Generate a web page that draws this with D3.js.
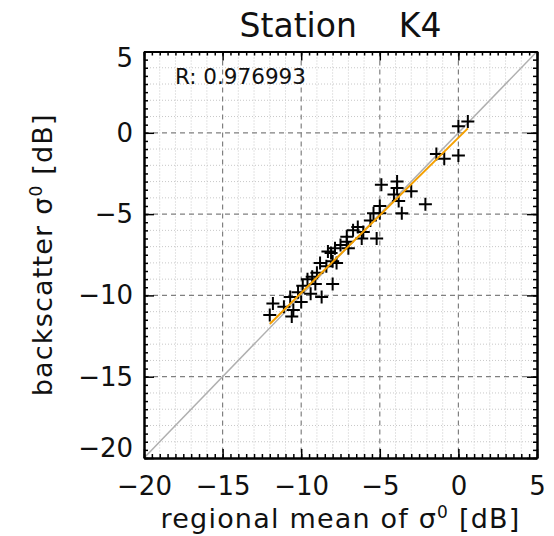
<!DOCTYPE html>
<html>
<head>
<meta charset="utf-8">
<script src="https://cdn.jsdelivr.net/npm/d3@7"></script>
<style>
  body { margin: 0; background: #fff; }
  text { font-family: "DejaVu Sans", sans-serif; fill: #111; }
</style>
</head>
<body>
<div id="chart"></div>
<script>
// regional mean of sigma0 (x) and station backscatter (y), in dB
var regionalMean = [-12.0, -11.8, -11.1, -10.7, -10.5, -10.6, -10.0, -9.9, -9.6, -9.3,
  -9.1, -8.7, -9.4, -10.2, -8.4, -8.3, -8.0, -7.75, -8.0, -8.1,
  -7.85, -7.5, -7.1, -7.1, -7.0, -6.7, -6.4, -6.05, -6.15, -5.2,
  -5.6, -5.4, -5.0, -5.0, -4.9, -3.9, -3.9, -3.0, -4.1, -3.8,
  -2.1, -3.6, -1.4, -0.9, 0.0, 0.0, 0.6, -9.0, -8.8];
var backscatter = [-11.2, -10.5, -10.7, -10.1, -10.9, -11.3, -10.4, -9.4, -9.0, -8.85,
  -9.3, -10.1, -9.9, -9.8, -8.2, -7.3, -7.9, -8.0, -9.3, -7.4,
  -7.1, -6.9, -6.4, -6.7, -7.1, -6.0, -5.8, -6.1, -6.5, -6.5,
  -5.4, -4.95, -4.95, -4.5, -3.2, -3.0, -3.4, -3.6, -3.8, -4.2,
  -4.4, -4.95, -1.3, -1.6, -1.4, 0.4, 0.7, -8.6, -8.0];

// linear fit drawn in orange
var fitSlope = 0.955;
var fitIntercept = -0.3;
var corrText = "R: 0.976993";

var majorTicks = [-20, -15, -10, -5, 0, 5];
var gridMajor = [-15, -10, -5, 0];
var axisDomain = [-20, 5];

var margin = {top: 51.5, right: 17, bottom: 78, left: 144},
  width = 554 - margin.left - margin.right,
  height = 536 - margin.top - margin.bottom;

var svg = d3.select("#chart")
  .append("svg")
    .attr("width", 554)
    .attr("height", 536)
  .append("g")
    .attr("transform", "translate(" + margin.left + "," + margin.top + ")");

var x = d3.scaleLinear().domain(axisDomain).range([0, width]);
var y = d3.scaleLinear().domain(axisDomain).range([height, 0]);

var minorGrid = d3.range(-19, 5, 1).filter(function(v) { return v % 5 != 0; });
var halfTicks = d3.range(-20, 5.01, 0.5);

// dotted minor grid
svg.selectAll(".vminor").data(minorGrid).enter().append("line")
  .attr("x1", function(d) { return x(d); }).attr("x2", function(d) { return x(d); })
  .attr("y1", 0).attr("y2", height)
  .style("stroke", "#c8c8c8").style("stroke-width", 1).style("stroke-dasharray", "1,2");
svg.selectAll(".hminor").data(minorGrid).enter().append("line")
  .attr("y1", function(d) { return y(d); }).attr("y2", function(d) { return y(d); })
  .attr("x1", 0).attr("x2", width)
  .style("stroke", "#c8c8c8").style("stroke-width", 1).style("stroke-dasharray", "1,2");

// dashed major grid
svg.selectAll(".vmajor").data(gridMajor).enter().append("line")
  .attr("x1", function(d) { return x(d); }).attr("x2", function(d) { return x(d); })
  .attr("y1", 0).attr("y2", height)
  .style("stroke", "#808080").style("stroke-width", 1.2).style("stroke-dasharray", "5,4");
svg.selectAll(".hmajor").data(gridMajor).enter().append("line")
  .attr("y1", function(d) { return y(d); }).attr("y2", function(d) { return y(d); })
  .attr("x1", 0).attr("x2", width)
  .style("stroke", "#808080").style("stroke-width", 1.2).style("stroke-dasharray", "5,4");

// 1:1 line
svg.append("path")
  .attr("d", d3.line()([[x(axisDomain[0]), y(axisDomain[0])], [x(axisDomain[1]), y(axisDomain[1])]]))
  .style("stroke", "#b0b0b0").style("stroke-width", 1.5).style("fill", "none");

// plus markers
var pts = regionalMean.map(function(v, i) { return [v, backscatter[i]]; });
var s = 6.5;
svg.selectAll(".pt").data(pts).enter().append("path")
  .attr("d", function(d) {
    var cx = x(d[0]), cy = y(d[1]);
    return "M" + (cx - s) + "," + cy + "H" + (cx + s) + "M" + cx + "," + (cy - s) + "V" + (cy + s);
  })
  .style("stroke", "#000").style("stroke-width", 2).style("fill", "none");

// regression line over data range
var xr = d3.extent(regionalMean);
svg.append("path")
  .attr("d", d3.line()(xr.map(function(v) { return [x(v), y(fitSlope * v + fitIntercept)]; })))
  .style("stroke", "#f5a000").style("stroke-width", 2).style("fill", "none");

// axes with inward ticks
function styleAxis(g) {
  g.select(".domain").style("stroke", "#000").style("stroke-width", 2);
  g.selectAll(".tick line").style("stroke", "#000").style("stroke-width", 1.5);
  g.selectAll("text").style("font-family", "DejaVu Sans").style("font-size", "26px").style("fill", "#111");
}

svg.append("g").attr("transform", "translate(0," + height + ")")
  .call(d3.axisBottom(x).tickValues(halfTicks).tickSize(-4).tickSizeOuter(0).tickFormat(""))
  .call(styleAxis);
svg.append("g").attr("transform", "translate(0," + height + ")")
  .call(d3.axisBottom(x).tickValues(majorTicks).tickSize(-9).tickSizeOuter(0).tickPadding(19).tickFormat(d3.format("d")))
  .call(styleAxis);
svg.append("g")
  .call(d3.axisTop(x).tickValues(halfTicks).tickSize(-4).tickSizeOuter(0).tickFormat(""))
  .call(styleAxis);
svg.append("g")
  .call(d3.axisTop(x).tickValues(majorTicks).tickSize(-9).tickSizeOuter(0).tickFormat(""))
  .call(styleAxis);

svg.append("g")
  .call(d3.axisLeft(y).tickValues(halfTicks).tickSize(-4).tickSizeOuter(0).tickFormat(""))
  .call(styleAxis);
svg.append("g")
  .call(d3.axisLeft(y).tickValues(majorTicks).tickSize(-10).tickSizeOuter(0).tickPadding(11).tickFormat(d3.format("d")))
  .call(styleAxis)
  // end labels sit a little inside the frame, as in the original
  .selectAll(".tick text")
    .attr("y", function(d) { return d == 5 ? 7 : (d == -20 ? -10 : 0); });
svg.append("g").attr("transform", "translate(" + width + ",0)")
  .call(d3.axisRight(y).tickValues(halfTicks).tickSize(-4).tickSizeOuter(0).tickFormat(""))
  .call(styleAxis);
svg.append("g").attr("transform", "translate(" + width + ",0)")
  .call(d3.axisRight(y).tickValues(majorTicks).tickSize(-10).tickSizeOuter(0).tickFormat(""))
  .call(styleAxis);

// correlation text
svg.append("text")
  .attr("x", 31).attr("y", 32.5)
  .style("font-size", "21.5px")
  .text(corrText);

// title
svg.append("text")
  .attr("x", width / 2).attr("y", -14.5)
  .attr("text-anchor", "middle")
  .style("font-size", "33px")
  .style("white-space", "pre")
  .text("Station    K4");

// axis titles
var xt = svg.append("text")
  .attr("x", width / 2).attr("y", height + 70)
  .attr("text-anchor", "middle")
  .style("font-size", "27px")
  .style("letter-spacing", "1.2px");
xt.append("tspan").text("regional mean of σ");
xt.append("tspan").attr("dy", -10).style("font-size", "17px").text("0");
xt.append("tspan").attr("dy", 10).text(" [dB]");

var yt = svg.append("text")
  .attr("transform", "translate(" + (52 - margin.left) + "," + (height / 2) + ") rotate(-90)")
  .attr("text-anchor", "middle")
  .style("font-size", "27px")
  .style("letter-spacing", "1.2px");
yt.append("tspan").text("backscatter σ");
yt.append("tspan").attr("dy", -10).style("font-size", "17px").text("0");
yt.append("tspan").attr("dy", 10).text(" [dB]");
</script>
</body>
</html>
